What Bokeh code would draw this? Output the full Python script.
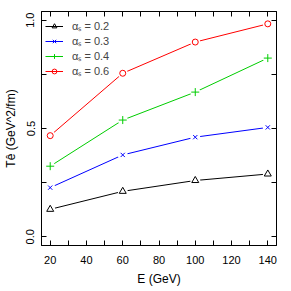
from bokeh.plotting import figure
from bokeh.models import FixedTicker, LinearAxis, Range1d, Legend, LegendItem, PrintfTickFormatter
from bokeh.embed import file_html
from bokeh.resources import INLINE

energy = [20, 60, 100, 140]
alpha_02 = [0.127, 0.210, 0.260, 0.290]
alpha_03 = [0.227, 0.378, 0.460, 0.505]
alpha_04 = [0.326, 0.539, 0.668, 0.825]
alpha_06 = [0.467, 0.755, 0.899, 0.983]
labels = ["α\u209b = 0.2", "α\u209b = 0.3", "α\u209b = 0.4", "α\u209b = 0.6"]
x_ticks = [20, 40, 60, 80, 100, 120, 140]
x_minor = [30, 50, 70, 90, 110, 130]
y_ticks = [0.0, 0.5, 1.0]
y_minor = [0.25, 0.75]

FONT = "Liberation Sans"

p = figure(frame_width=235, frame_height=234,
           output_backend="svg", toolbar_location=None,
           x_range=Range1d(15.2, 144.8), y_range=Range1d(-0.04, 1.04),
           min_border_left=37, min_border_right=5, min_border_top=11, min_border_bottom=36)
p.grid.visible = False
p.outline_line_color = "black"
p.background_fill_color = "white"
p.border_fill_color = "white"


def style_axis(ax, show_labels=True):
    ax.major_tick_in = 5
    ax.major_tick_out = 0
    ax.minor_tick_in = 5
    ax.minor_tick_out = 0
    ax.axis_line_color = "black"
    ax.major_tick_line_color = "black"
    ax.minor_tick_line_color = "black"
    ax.major_label_text_font = FONT
    ax.major_label_text_font_size = "11px"
    ax.major_label_text_color = "black" if show_labels else None
    ax.axis_label_text_font = FONT
    ax.axis_label_text_font_size = "12px"
    ax.axis_label_text_font_style = "normal"
    ax.axis_label_text_color = "black"


p.xaxis.ticker = FixedTicker(ticks=x_ticks, minor_ticks=x_minor)
p.yaxis.ticker = FixedTicker(ticks=y_ticks, minor_ticks=y_minor)
p.yaxis.formatter = PrintfTickFormatter(format="%.1f")
p.xaxis.axis_label = "E (GeV)"
p.yaxis.axis_label = "Tê (GeV^2/fm)"
for ax in p.xaxis + p.yaxis:
    style_axis(ax)
p.xaxis.major_label_standoff = 10
p.xaxis.axis_label_standoff = 5
p.yaxis.major_label_orientation = "vertical"
p.yaxis.major_label_standoff = 7
p.yaxis.axis_label_standoff = 6

top = LinearAxis(ticker=FixedTicker(ticks=x_ticks, minor_ticks=x_minor),
                 major_label_overrides={t: "" for t in x_ticks})
style_axis(top, False)
top.major_label_standoff = 0
p.add_layout(top, "above")
right = LinearAxis(ticker=FixedTicker(ticks=y_ticks, minor_ticks=y_minor),
                   major_label_overrides={t: "" for t in y_ticks})
style_axis(right, False)
right.major_label_standoff = 0
p.add_layout(right, "right")

series = [
    (alpha_02, "black", "triangle", 7),
    (alpha_03, "#0000FF", "x", 6),
    (alpha_04, "#00CD00", "cross", 8),
    (alpha_06, "#FF0000", "circle", 6),
]
items = []
for (ys, col, mk, sz), lab in zip(series, labels):
    ln = p.line(energy, ys, line_color=col, line_width=1)
    p.scatter(energy, ys, size=10, marker="circle", fill_color="white",
              line_color=None)
    sc = p.scatter(energy, ys, size=sz, marker=mk, line_color=col,
                   fill_color=None, line_width=1)
    items.append(LegendItem(label=lab, renderers=[ln, sc]))

legend = Legend(items=items, location=(4, 167), border_line_color=None,
                background_fill_alpha=0, padding=0, margin=0, spacing=-3,
                glyph_width=18, glyph_height=12, label_height=12,
                label_standoff=9, label_text_font=FONT,
                label_text_font_size="11px", label_text_line_height=1.0)
p.add_layout(legend, "center")

open("out.html", "w").write(file_html(p, INLINE))
